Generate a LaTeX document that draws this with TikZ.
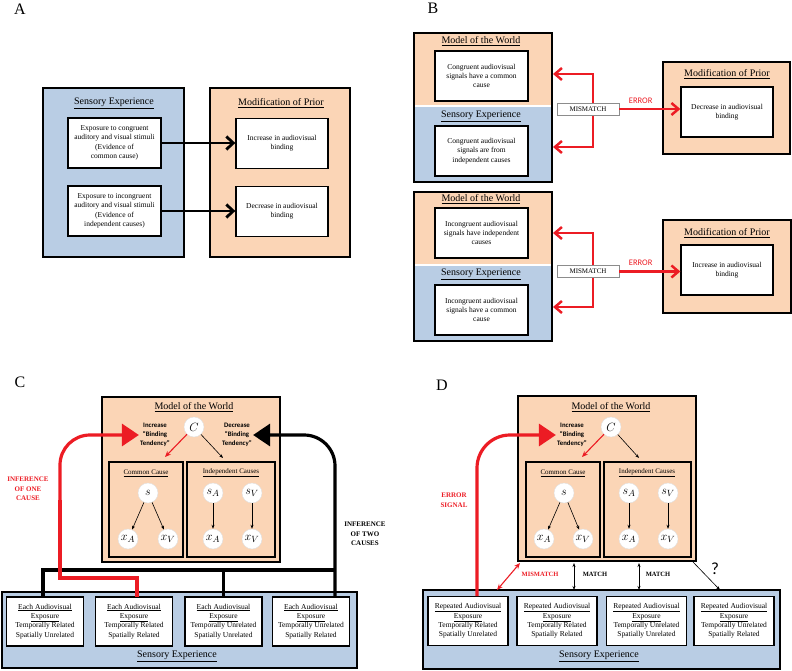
\documentclass[tikz,border=0pt]{standalone}
\usepackage{fontspec}
\setmainfont{Liberation Serif}
\newfontfamily\labfont{Carlito}
\usetikzlibrary{arrows.meta}

\definecolor{peach}{RGB}{251,213,182}
\definecolor{skyblue}{RGB}{185,205,228}
\definecolor{errred}{RGB}{236,28,36}

\begin{document}
\begin{tikzpicture}[x=1pt, y=-1pt,
    panel/.style={font=\fontsize{16}{16}\selectfont},
    head/.style={font=\fontsize{10}{12}\selectfont},
    subhead/.style={font=\fontsize{7}{8}\selectfont},
    prior/.style={draw, line width=1.4pt, fill=peach},
    sensory/.style={draw, line width=1.4pt, fill=skyblue},
    causebox/.style={draw, line width=2pt},
    txtbox/.style={draw, line width=1.3pt, fill=white, align=center, inner sep=1pt,
        minimum width=93pt, minimum height=50pt, font=\fontsize{7.5}{9.4}\selectfont},
    expbox/.style={txtbox, minimum width=77pt, minimum height=49pt},
    misbox/.style={draw=black!45, line width=0.5pt, fill=white, minimum width=62pt,
        minimum height=12pt, inner sep=0pt, font=\fontsize{7}{8}\selectfont},
    var/.style={circle, fill=white, draw=black!12, line width=0.4pt, minimum size=20pt,
        inner sep=0pt, font=\fontsize{12.5}{12.5}\selectfont},
    tend/.style={align=center, inner sep=1pt, font=\labfont\bfseries\fontsize{6.8}{9}\selectfont},
    infer/.style={align=center, font=\bfseries\fontsize{7}{9.5}\selectfont},
    thickarr/.style={line width=2.8pt, -{Straight Barb[length=7pt,width=13pt]}},
    barb/.tip={Straight Barb[length=7pt,width=12pt]},
    errbar/.style={errred, line width=2.5pt},
    bigline/.style={line width=3.2pt},
    errbig/.style={errred, line width=3.2pt},
    bighead/.style={-{Triangle[length=17pt,width=22pt]}},
    edge/.style={line width=0.6pt, -{Stealth[length=4pt,width=3pt]}},
    redge/.style={errred, line width=1.1pt, -{Stealth[length=6pt,width=5pt]}},
    twoway/.style={line width=0.6pt, {Stealth[length=4pt,width=3pt]}-{Stealth[length=4pt,width=3pt]}},
]
\useasboundingbox (0,0) rectangle (792,671);

% A
\node[panel] (labA) at (20,9) {A};
\draw[sensory] (43,88) rectangle (184,257);
\node[head] (asensT) at (114,103) {\underline{Sensory Experience}};
\node[txtbox] (aexpA) at (114.5,143) {Exposure to congruent\\auditory and visual stimuli\\(Evidence of\\common cause)};
\node[txtbox] (aexpB) at (114.5,211) {Exposure to incongruent\\auditory and visual stimuli\\(Evidence of\\independent causes)};
\draw[prior] (210,88) rectangle (350,257);
\node[head] (apriT) at (281,103) {\underline{Modification of Prior}};
\node[txtbox, minimum width=92pt] (aincA) at (282,143.5) {Increase in audiovisual\\binding};
\node[txtbox, minimum width=92pt] (adecA) at (282,211.5) {Decrease in audiovisual\\binding};
\draw[thickarr] (aexpA.east) -- (aexpA.east -| aincA.west);
\draw[thickarr] (aexpB.east) -- (aexpB.east -| adecA.west);

% B, upper
\node[panel] (labB) at (433,8) {B};
\fill[peach] (414,33) rectangle (552,106);
\fill[skyblue] (414,106) rectangle (552,182);
\draw[white, line width=1.2pt] (414,106) -- (552,106);
\draw[line width=1.4pt] (414,33) rectangle (552,182);
\node[head] (bmodT) at (481,41) {\underline{Model of the World}};
\node[head] (bsenT) at (481,116) {\underline{Sensory Experience}};
\node[txtbox] (bmodA) at (481.5,76) {Congruent audiovisual\\signals have a common\\cause};
\node[txtbox] (bsenA) at (481.5,151) {Congruent audiovisual\\signals are from\\independent causes};
\coordinate (bgrpA1) at (553,74);
\coordinate (bgrpA2) at (553,147);
\draw[errbar, barb-barb] (bgrpA1) -- ++(40,0) |- (bgrpA2);
\node[misbox] (bmisA) at (588,109) {MISMATCH};
\draw[prior] (663,62) rectangle (790,154);
\node[head] (bpriT) at (727,74) {\underline{Modification of Prior}};
\node[txtbox, minimum width=92pt] (bdecA) at (727,112) {Decrease in audiovisual\\binding};
\draw[errbar, -barb] (bmisA.east) -- (bmisA.east -| bdecA.west)
    node[pos=0.35, above=1pt, text=errred, font=\labfont\fontsize{8.5}{9}\selectfont] (berrA) {ERROR};

% B, lower
\fill[peach] (414,192) rectangle (552,265);
\fill[skyblue] (414,265) rectangle (552,341);
\draw[white, line width=1.2pt] (414,265) -- (552,265);
\draw[line width=1.4pt] (414,192) rectangle (552,341);
\node[head] (bmodT2) at (481,199) {\underline{Model of the World}};
\node[head] (bsenT2) at (481,274) {\underline{Sensory Experience}};
\node[txtbox] (bmodB) at (481.5,233) {Incongruent audiovisual\\signals have independent\\causes};
\node[txtbox] (bsenB) at (481.5,310) {Incongruent audiovisual\\signals have a common\\cause};
\coordinate (bgrpB1) at (553,233);
\coordinate (bgrpB2) at (553,307);
\draw[errbar, barb-barb] (bgrpB1) -- ++(40,0) |- (bgrpB2);
\node[misbox] (bmisB) at (588,271.5) {MISMATCH};
\draw[prior] (663,220) rectangle (791,313);
\node[head] (bpriT2) at (727,233) {\underline{Modification of Prior}};
\node[txtbox, minimum width=92pt] (bincB) at (727,270) {Increase in audiovisual\\binding};
\draw[errbar, -barb] (bmisB.east) -- (bmisB.east -| bincB.west)
    node[pos=0.35, above=1pt, text=errred, font=\labfont\fontsize{8.5}{9}\selectfont] (berrB) {ERROR};

% C
\node[panel] (labC) at (20,382) {C};
\draw[prior] (102,397) rectangle (280,562);
\node[head] (cmodT) at (194,407) {\underline{Model of the World}};
\node[var] (cC) at (194,427) {$C$};
\node[tend] (cinc) at (155,435) {Increase\\“Binding\\Tendency”};
\node[tend] (cdec) at (237,435) {Decrease\\“Binding\\Tendency”};
\draw[causebox] (109,462) rectangle (183,557);
\draw[causebox] (187,462) rectangle (275,557);
\node[subhead] (ccomT) at (146,473) {\underline{Common Cause}};
\node[subhead] (cindT) at (231,473) {\underline{Independent Causes}};
\coordinate (ccomP) at (165,457);
\coordinate (cindP) at (223,458);
\draw[redge] (cC) -- (ccomP);
\draw[edge] (cC) -- (cindP);
\node[var] (cs) at (148,493) {$s$};
\node[var] (cxa) at (128,539) {$x_A$};
\node[var] (cxv) at (168,539) {$x_V$};
\node[var] (csa) at (213,493) {$s_A$};
\node[var] (csv) at (252,493) {$s_V$};
\node[var] (cxa2) at (213,539) {$x_A$};
\node[var] (cxv2) at (252,539) {$x_V$};
\draw[edge] (cs) -- (cxa);
\draw[edge] (cs) -- (cxv);
\draw[edge] (csa) -- (cxa2);
\draw[edge] (csv) -- (cxv2);

\draw[sensory] (2,592) rectangle (357,668);
\node[head] (csenT) at (177,656) {\underline{Sensory Experience}};
\node[expbox] (cexpA) at (45,621.5) {\underline{Each Audiovisual}\\\underline{Exposure}\\Temporally Related\\Spatially Unrelated};
\node[expbox] (cexpB) at (134,621.5) {\underline{Each Audiovisual}\\\underline{Exposure}\\Temporally Related\\Spatially Related};
\node[expbox] (cexpC) at (223.5,621.5) {\underline{Each Audiovisual}\\\underline{Exposure}\\Temporally Unrelated\\Spatially Unrelated};
\node[expbox] (cexpD) at (311,621.5) {\underline{Each Audiovisual}\\\underline{Exposure}\\Temporally Unrelated\\Spatially Related};

\coordinate (cbusL) at (43,570);
\coordinate (cbusR) at (335,570);
\draw[bigline] (cexpA.north -| cbusL) -- (cbusL) -- (cbusR);
\draw[bigline] (cexpC.north) -- (cexpC.north |- cbusR);
\draw[bigline, bighead, rounded corners=31pt] (cexpD.north -| cbusR) -- (cbusR |- cdec.east) -- (cdec.east);
\coordinate (credS) at (137,597);
\coordinate (credA) at (60,578);
\coordinate (credB) at (60,500);
\draw[errbig] (credS) -- (credS |- credA) -- (credA) -- (credB);
\draw[errbig, bighead, rounded corners=30pt] (credB) -- (credB |- cinc.west) -- (cinc.west);
\node[infer, text=errred] (cone) at (28,489) {INFERENCE\\OF ONE\\CAUSE};
\node[infer] (ctwo) at (365,534) {INFERENCE\\OF TWO\\CAUSES};

% D
\node[panel] (labD) at (442,385) {D};
\draw[prior] (518,396) rectangle (696,561);
\node[head] (dmodT) at (611,407) {\underline{Model of the World}};
\node[var] (dC) at (611,427) {$C$};
\node[tend] (dinc) at (572,435) {Increase\\“Binding\\Tendency”};
\draw[causebox] (526,462) rectangle (600,557);
\draw[causebox] (604,462) rectangle (691,557);
\node[subhead] (dcomT) at (563,473) {\underline{Common Cause}};
\node[subhead] (dindT) at (647,473) {\underline{Independent Causes}};
\coordinate (dcomP) at (582,457);
\coordinate (dindP) at (639,458);
\draw[redge] (dC) -- (dcomP);
\draw[edge] (dC) -- (dindP);
\node[var] (ds) at (564,493) {$s$};
\node[var] (dxa) at (544,539) {$x_A$};
\node[var] (dxv) at (583,539) {$x_V$};
\node[var] (dsa) at (629,493) {$s_A$};
\node[var] (dsv) at (668,493) {$s_V$};
\node[var] (dxa2) at (629,539) {$x_A$};
\node[var] (dxv2) at (668,539) {$x_V$};
\draw[edge] (ds) -- (dxa);
\draw[edge] (ds) -- (dxv);
\draw[edge] (dsa) -- (dxa2);
\draw[edge] (dsv) -- (dxv2);

\draw[sensory] (423,590) rectangle (780,669);
\node[head] (dsenT) at (599,656) {\underline{Sensory Experience}};
\node[expbox, minimum width=80pt] (dexpA) at (468,621) {\underline{Repeated Audiovisual}\\\underline{Exposure}\\Temporally Related\\Spatially Unrelated};
\node[expbox, minimum width=80pt] (dexpB) at (557,621) {\underline{Repeated Audiovisual}\\\underline{Exposure}\\Temporally Related\\Spatially Related};
\node[expbox, minimum width=80pt] (dexpC) at (646.5,621) {\underline{Repeated Audiovisual}\\\underline{Exposure}\\Temporally Unrelated\\Spatially Unrelated};
\node[expbox, minimum width=80pt] (dexpD) at (734,621) {\underline{Repeated Audiovisual}\\\underline{Exposure}\\Temporally Unrelated\\Spatially Related};

\coordinate (dsig) at (477,596);
\draw[errbig, bighead, rounded corners=33pt] (dsig) -- (dsig |- dinc.west) -- (dinc.west);
\node[infer, text=errred] (derr) at (454,500) {ERROR\\SIGNAL};

\coordinate (dmisA) at (497,590);
\coordinate (dmisB) at (520,563);
\draw[errred, line width=1.1pt, {Stealth[length=6pt,width=5pt]}-{Stealth[length=6pt,width=5pt]}] (dmisA) -- (dmisB);
\node[infer, text=errred, font=\bfseries\fontsize{6.5}{8}\selectfont] (dmisT) at (540,574) {MISMATCH};
\coordinate (dmtA1) at (574,563);
\coordinate (dmtA2) at (574,590);
\coordinate (dmtB1) at (639,563);
\coordinate (dmtB2) at (639,590);
\draw[twoway] (dmtA1) -- (dmtA2);
\draw[twoway] (dmtB1) -- (dmtB2);
\node[infer, font=\bfseries\fontsize{6.5}{8}\selectfont] (dmtAT) at (595,574) {MATCH};
\node[infer, font=\bfseries\fontsize{6.5}{8}\selectfont] (dmtBT) at (658,574) {MATCH};
\coordinate (dqA) at (693,562);
\coordinate (dqB) at (720,590);
\draw[edge] (dqA) -- (dqB);
\node[font=\labfont\fontsize{17}{17}\selectfont] (dq) at (715,569) {?};

\end{tikzpicture}
\end{document}
